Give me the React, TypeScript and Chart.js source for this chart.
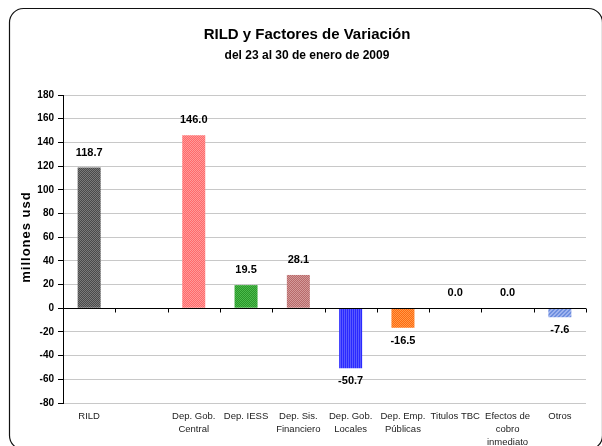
import { useEffect, useRef } from "react";
import { Chart, registerables } from "chart.js";
Chart.register(...registerables);

const titleText = "RILD y Factores de Variación";
const subtitleText = "del 23 al 30 de enero de 2009";
const yTitle = "millones usd";

const categories: string[][] = [
  ["RILD"],
  [""],
  ["Dep. Gob.", "Central"],
  ["Dep. IESS"],
  ["Dep. Sis.", "Financiero"],
  ["Dep. Gob.", "Locales"],
  ["Dep. Emp.", "Públicas"],
  ["Titulos TBC"],
  ["Efectos de", "cobro", "inmediato"],
  ["Otros"],
];
const values: (number | null)[] = [118.7, null, 146.0, 19.5, 28.1, -50.7, -16.5, 0.0, 0.0, -7.6];
const baseColors = ["#4a4a4a", "#ffffff", "#ff6a6a", "#2a962a", "#b86a6a", "#2a2aff", "#ff6a10", "#ffffff", "#ffffff", "#6f8fdf"];
const altColors = ["#7a7a7a", "#ffffff", "#ff9a9a", "#4cbc4c", "#d49a9a", "#5a5aff", "#ff9a4a", "#ffffff", "#ffffff", "#a0b4ee"];
const patternKinds = ["check", "none", "check", "check", "check", "vstripe", "check", "none", "none", "diag"];
const yMin = -80;
const yMax = 180;
const yStep = 20;

const FONT = "'Liberation Sans', Arial, sans-serif";

function makePattern(c1: string, c2: string, kind: string): CanvasPattern | string {
  if (kind === "none") return c1;
  const off = document.createElement("canvas");
  off.width = 4;
  off.height = 4;
  const g = off.getContext("2d")!;
  g.fillStyle = c1;
  g.fillRect(0, 0, 4, 4);
  g.fillStyle = c2;
  for (let y = 0; y < 4; y++) {
    for (let x = 0; x < 4; x++) {
      let on = false;
      if (kind === "check") on = (x + y) % 2 === 0;
      else if (kind === "vstripe") on = x % 2 === 0;
      else if (kind === "diag") on = (x + y) % 4 < 2;
      if (on) g.fillRect(x, y, 1, 1);
    }
  }
  const p = g.createPattern(off, "repeat");
  return p || c1;
}

const decorPlugin = {
  id: "decor",
  afterDatasetsDraw(chart: any) {
    const ctx = chart.ctx;
    const area = chart.chartArea;
    const y = chart.scales.y;
    const zy = Math.round(y.getPixelForValue(0)) + 0.5;
    ctx.save();
    ctx.strokeStyle = "#000";
    ctx.lineWidth = 1;
    ctx.beginPath();
    ctx.moveTo(area.left - 1, zy);
    ctx.lineTo(area.right, zy);
    const n = categories.length;
    for (let i = 1; i <= n; i++) {
      const px = Math.round(area.left + ((area.right - area.left) * i) / n) + 0.5;
      ctx.moveTo(px, zy);
      ctx.lineTo(px, zy + 4);
    }
    ctx.stroke();

    // data labels
    const meta = chart.getDatasetMeta(0);
    ctx.fillStyle = "#000";
    ctx.font = `bold 11px ${FONT}`;
    ctx.textAlign = "center";
    ctx.textBaseline = "middle";
    meta.data.forEach((el: any, i: number) => {
      const v = values[i];
      if (v === null || v === undefined) return;
      const ty = v >= 0 ? el.y - 15 : el.y + 13;
      ctx.fillText(v.toFixed(1), el.x, ty);
    });
    ctx.restore();
  },
  afterDraw(chart: any) {
    const ctx = chart.ctx;
    ctx.save();
    ctx.fillStyle = "#000";
    ctx.textAlign = "center";
    ctx.textBaseline = "middle";
    ctx.font = `bold 15px ${FONT}`;
    ctx.fillText(titleText, 307, 35);
    ctx.font = `bold 12px ${FONT}`;
    ctx.fillText(subtitleText, 307, 56);

    ctx.translate(26, 237);
    ctx.rotate(-Math.PI / 2);
    ctx.font = `bold 13px ${FONT}`;
    try { (ctx as any).letterSpacing = "1px"; } catch (e) {}
    ctx.fillText(yTitle, 0, 0);
    try { (ctx as any).letterSpacing = "0px"; } catch (e) {}
    ctx.restore();

    ctx.save();
    ctx.strokeStyle = "#111";
    ctx.lineWidth = 1.2;
    ctx.beginPath();
    (ctx as any).roundRect(9.5, 8.5, 593, 441, 14);
    ctx.stroke();
    ctx.restore();
  },
};

export default function App() {
  const ref = useRef<HTMLCanvasElement>(null);
  useEffect(() => {
    const canvas = ref.current!;
    const bg = baseColors.map((c, i) => makePattern(c, altColors[i], patternKinds[i]));
    const chart = new Chart(canvas, {
      type: "bar",
      data: {
        labels: categories,
        datasets: [
          {
            data: values as any,
            backgroundColor: bg as any,
            borderWidth: 0,
            categoryPercentage: 1,
            barPercentage: 0.44,
          },
        ],
      },
      options: {
        animation: false,
        responsive: false,
        maintainAspectRatio: false,
        events: [],
        layout: { padding: { top: 95, right: 16, bottom: 0, left: 0 } },
        plugins: { legend: { display: false }, tooltip: { enabled: false }, title: { display: false } },
        scales: {
          x: {
            offset: true,
            grid: { display: false, drawTicks: false },
            border: { display: false },
            ticks: {
              color: "#222",
              font: { family: FONT, size: 9.5, lineHeight: 1.35 },
              padding: 7,
              maxRotation: 0,
              autoSkip: false,
            },
            afterFit(scale: any) {
              scale.height = 43;
            },
          },
          y: {
            min: yMin,
            max: yMax,
            ticks: {
              stepSize: yStep,
              color: "#000",
              font: { family: FONT, size: 10, weight: "bold" },
              padding: 4,
            },
            grid: { color: "#c8c8c8", tickColor: "#000", tickLength: 5, lineWidth: 1 },
            border: { display: true, color: "#000", width: 1 },
            afterFit(scale: any) {
              scale.width = 63;
            },
          },
        },
      },
      plugins: [decorPlugin],
    });
    return () => chart.destroy();
  }, []);
  return (
    <div style={{ position: "absolute", left: 0, top: 0, width: 602, height: 446, background: "#fff" }}>
      <canvas ref={ref} width={602} height={446} style={{ display: "block" }} />
    </div>
  );
}
